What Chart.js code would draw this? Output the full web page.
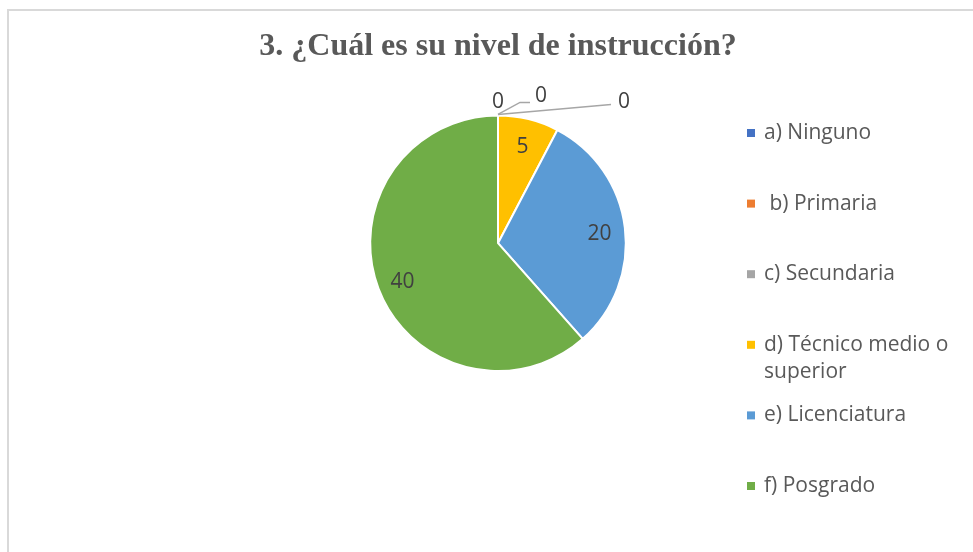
<!DOCTYPE html>
<html>
<head>
<meta charset="utf-8">
<script src="https://cdn.jsdelivr.net/npm/chart.js@4/dist/chart.umd.min.js"></script>
<style>
  html, body { margin: 0; padding: 0; background: #ffffff; }
  #chartBox { width: 973px; height: 552px; }
</style>
</head>
<body>
<div id="chartBox"><canvas id="nivelChart" width="973" height="552"></canvas></div>
<script>
// Datos del gráfico
const categories = ['a) Ninguno', ' b) Primaria', 'c) Secundaria', 'd) Técnico medio o superior', 'e) Licenciatura', 'f) Posgrado'];
const counts = [0, 0, 0, 5, 20, 40];
const sliceColors = ['#4472C4', '#ED7D31', '#A5A5A5', '#FFC000', '#5B9BD5', '#70AD47'];
const chartTitle = '3. ¿Cuál es su nivel de instrucción?';

// marco gris del recuadro (solo arriba e izquierda visibles)
const framePlugin = {
    id: 'frame',
    beforeDraw(chart) {
        const ctx = chart.ctx;
        ctx.save();
        ctx.fillStyle = '#d9d9d9';
        ctx.fillRect(7, 9, chart.width - 7, 2);
        ctx.fillRect(7, 9, 2, chart.height - 9);
        ctx.restore();
    }
};

// etiquetas de valor (los ceros van fuera con líneas guía)
const zeroLabelOffsets = [
    { dx: 0, dy: -13, line: null },
    { dx: 43, dy: -19, line: [[0, -1], [22, -13], [32, -13]] },
    { dx: 126, dy: -13, line: [[0, -1], [113, -11]] }
];

const valueLabelPlugin = {
    id: 'valueLabels',
    afterDatasetsDraw(chart) {
        const ctx = chart.ctx;
        const meta = chart.getDatasetMeta(0);
        const values = chart.data.datasets[0].data;
        ctx.save();
        ctx.font = '21px "Open Sans"';
        ctx.textAlign = 'center';
        ctx.textBaseline = 'middle';
        let zeroIdx = 0;
        meta.data.forEach((arc, i) => {
            const p = arc.getProps(['x', 'y', 'startAngle', 'endAngle', 'outerRadius'], true);
            if (values[i] === 0) {
                const ax = p.x + Math.cos(p.startAngle) * p.outerRadius;
                const ay = p.y + Math.sin(p.startAngle) * p.outerRadius;
                const off = zeroLabelOffsets[zeroIdx++] || { dx: 0, dy: -13, line: null };
                if (off.line) {
                    ctx.strokeStyle = '#a6a6a6';
                    ctx.lineWidth = 1.5;
                    ctx.beginPath();
                    off.line.forEach((pt, k) => {
                        if (k === 0) ctx.moveTo(ax + pt[0], ay + pt[1]);
                        else ctx.lineTo(ax + pt[0], ay + pt[1]);
                    });
                    ctx.stroke();
                }
                ctx.fillStyle = '#404040';
                ctx.fillText(String(values[i]), ax + off.dx, ay + off.dy);
            } else {
                const mid = (p.startAngle + p.endAngle) / 2;
                const r = p.outerRadius * 0.8;
                ctx.fillStyle = '#404040';
                ctx.fillText(String(values[i]), p.x + Math.cos(mid) * r, p.y + Math.sin(mid) * r + 3);
            }
        });
        ctx.restore();
    }
};

// leyenda a la derecha, dibujada a mano para respetar el espaciado
const sideLegendPlugin = {
    id: 'sideLegend',
    afterDraw(chart) {
        const ctx = chart.ctx;
        const markX = 747, textX = 764, firstY = 133, step = 70.6, lineH = 27;
        const maxW = chart.width - textX - 4;
        ctx.save();
        ctx.font = '21px "Open Sans"';
        ctx.textBaseline = 'middle';
        ctx.textAlign = 'left';
        chart.data.labels.forEach((label, i) => {
            const y = firstY + i * step;
            ctx.fillStyle = sliceColors[i];
            ctx.fillRect(markX, y - 4, 8, 8);
            // partir en líneas si no cabe (se conserva el espacio inicial)
            const lead = label.match(/^\s*/)[0];
            const words = label.trim().split(' ');
            const lines = [];
            let cur = lead + words[0];
            words.slice(1).forEach(w => {
                const test = cur + ' ' + w;
                if (ctx.measureText(test).width > maxW) {
                    lines.push(cur);
                    cur = w;
                } else {
                    cur = test;
                }
            });
            lines.push(cur);
            ctx.fillStyle = '#595959';
            lines.forEach((ln, k) => ctx.fillText(ln, textX, y + k * lineH));
        });
        ctx.restore();
    }
};

const nivelCtx = document.getElementById('nivelChart');
const nivelChart = new Chart(nivelCtx, {
    type: 'pie',
    data: {
        labels: categories,
        datasets: [{
            data: counts,
            backgroundColor: sliceColors,
            borderColor: '#ffffff',
            borderWidth: 2
        }]
    },
    options: {
        responsive: false,
        animation: false,
        layout: {
            padding: { left: 100, right: 77, top: 0, bottom: 180 }
        },
        plugins: {
            legend: { display: false },
            tooltip: { enabled: false },
            title: {
                display: true,
                text: chartTitle,
                color: '#595959',
                font: { family: '"Liberation Serif", "Times New Roman", serif', size: 32, weight: 'bold' },
                padding: { top: 28, bottom: 48 }
            }
        }
    },
    plugins: [framePlugin, valueLabelPlugin, sideLegendPlugin]
});
</script>
</body>
</html>
